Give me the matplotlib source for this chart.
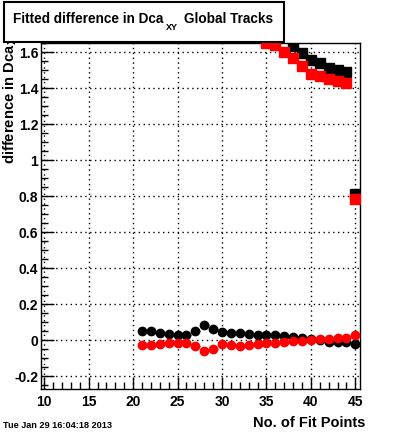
import matplotlib
matplotlib.use("Agg")
import matplotlib.pyplot as plt
from matplotlib.patches import Rectangle
from matplotlib.ticker import MultipleLocator, FixedLocator

plt.rcParams['font.family'] = ['Liberation Sans', 'DejaVu Sans']

# lower series (circles)
x_low = list(range(21, 46))
black_low = [0.052, 0.052, 0.041, 0.035, 0.031, 0.031, 0.050, 0.085, 0.066, 0.048,
             0.042, 0.039, 0.035, 0.028, 0.031, 0.031, 0.026, 0.020, 0.015, 0.005,
             0.000, -0.009, -0.007, -0.007, -0.022]
red_low = [-0.028, -0.028, -0.022, -0.017, -0.017, -0.017, -0.032, -0.061, -0.046, -0.020,
           -0.024, -0.032, -0.026, -0.020, -0.017, -0.017, -0.011, -0.006, -0.006, 0.000,
           0.005, 0.005, 0.015, 0.015, 0.029]

# upper series (squares)
x_black_up = [38, 39, 40, 41, 42, 43, 44, 45]
black_up = [1.635, 1.594, 1.556, 1.539, 1.511, 1.500, 1.489, 0.813]
x_red_up = [35, 36, 37, 38, 39, 40, 41, 42, 43, 44, 45]
red_up = [1.650, 1.642, 1.600, 1.567, 1.524, 1.478, 1.467, 1.450, 1.439, 1.428, 0.784]

xticks = [10, 15, 20, 25, 30, 35, 40, 45]
yticks = [-0.2, 0, 0.2, 0.4, 0.6, 0.8, 1, 1.2, 1.4, 1.6]
ytick_labels = ['-0.2', '0', '0.2', '0.4', '0.6', '0.8', '1', '1.2', '1.4', '1.6']

W, H = 400, 433
fig = plt.figure(figsize=(4.0, 4.33), dpi=100)
ax = fig.add_axes([0.1025, 0.1016, 0.7975, 0.7984])
ax.set_xlim(9.63, 45.53)
ax.set_ylim(-0.27, 1.65)

ax.errorbar(x_low, black_low, xerr=0.5, fmt='o', color='black', ms=6, lw=1, capsize=0, zorder=3)
ax.errorbar(x_low, red_low, xerr=0.5, fmt='o', color='red', ms=6, lw=1, capsize=0, zorder=4)
ax.errorbar(x_black_up, black_up, xerr=0.5, fmt='s', color='black', ms=6.5, lw=1, capsize=0, zorder=3)
ax.errorbar(x_red_up, red_up, xerr=0.5, fmt='s', color='red', ms=6.5, lw=1, capsize=0, zorder=4)

ax.xaxis.set_major_locator(FixedLocator(xticks))
ax.xaxis.set_minor_locator(MultipleLocator(1))
ax.yaxis.set_major_locator(FixedLocator(yticks))
ax.yaxis.set_minor_locator(MultipleLocator(0.05))
ax.set_xticklabels([str(t) for t in xticks], fontsize=10, fontweight='bold')
ax.set_yticklabels(ytick_labels, fontsize=10, fontweight='bold')
ax.tick_params(which='major', direction='in', length=9, width=1, top=False, right=False)
ax.tick_params(which='minor', direction='in', length=5, width=1, top=False, right=False)
ax.tick_params(axis='x', pad=4)
ax.tick_params(axis='y', pad=2)
ax.grid(True, which='major', linestyle=(0, (1, 2.5)), color='black', lw=1)
for s in ax.spines.values():
    s.set_linewidth(1)

fig.text(365 / W, 1 - 422.7 / H, 'No. of Fit Points', ha='right', va='center',
         fontsize=10.5, fontweight='bold')
fig.text(10 / W, 1 - 28 / H, 'difference in Dca$_{\\mathbf{XY}}$', rotation=90,
         ha='center', va='top', fontsize=10.6, fontweight='bold')

fig.patches.append(Rectangle((4.3 / W, 1 - 42.3 / H), 280 / W, 40 / H,
                             transform=fig.transFigure, facecolor='white',
                             edgecolor='black', lw=1.5, zorder=10))
fig.text(163.5 / W, 1 - 23 / H, 'Fitted difference in Dca', ha='right', va='baseline',
         fontsize=9.8, fontweight='bold', zorder=11)
fig.text(165.5 / W, 1 - 28 / H, 'XY', ha='left', va='center',
         fontsize=6.5, fontweight='bold', zorder=11)
fig.text(183.5 / W, 1 - 23 / H, 'Global Tracks', ha='left', va='baseline',
         fontsize=9.8, fontweight='bold', zorder=11)

fig.text(3 / W, 1 - 425 / H, 'Tue Jan 29 16:04:18 2013', ha='left', va='center',
         fontsize=6.6, fontweight='bold')

fig.savefig('out.png', dpi=100)
